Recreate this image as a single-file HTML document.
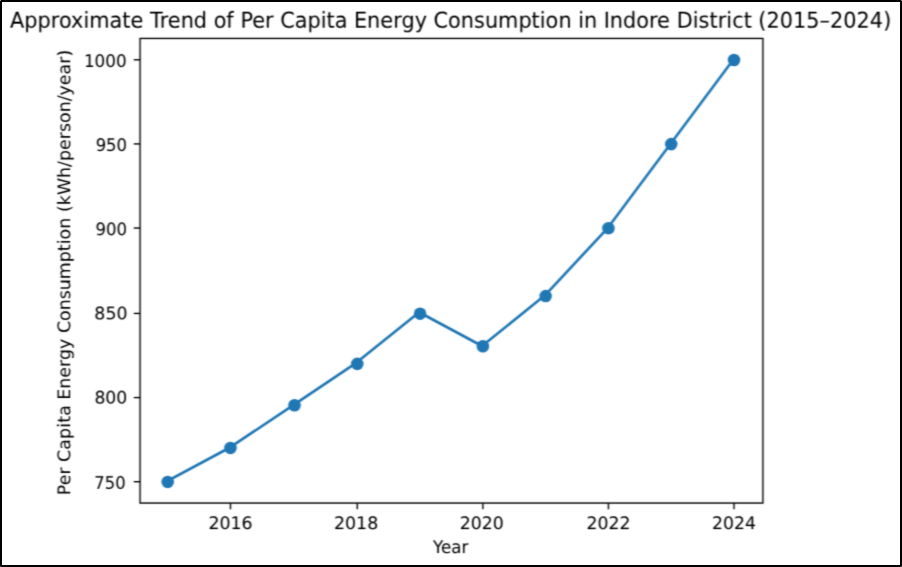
<!DOCTYPE html>
<html lang="en">
<head>
<meta charset="utf-8">
<title>Approximate Trend of Per Capita Energy Consumption in Indore District (2015–2024)</title>
<style>
html,body{margin:0;padding:0;background:#fff;}
body{width:902px;height:567px;overflow:hidden;}
svg{display:block;}
text{font-family:"DejaVu Sans","Liberation Sans",sans-serif;fill:#000000;text-rendering:geometricPrecision;white-space:pre;}
</style>
</head>
<body>
<svg width="902" height="567" viewBox="0 0 902 567">
<defs>
<filter id="fb" filterUnits="userSpaceOnUse" x="0" y="0" width="902" height="567" color-interpolation-filters="sRGB"><feConvolveMatrix order="5 5" divisor="1" targetX="2" targetY="2" edgeMode="none" preserveAlpha="false" kernelMatrix="0.00001 0.0002 0.0005 0.0002 0.00001 0.00194 0.02966 0.07363 0.02966 0.00194 0.01027 0.15706 0.38983 0.15706 0.01027 0.00194 0.02966 0.07363 0.02966 0.00194 0.00001 0.0002 0.0005 0.0002 0.00001"/></filter>
<filter id="ft2016" filterUnits="userSpaceOnUse" x="0" y="0" width="902" height="567" color-interpolation-filters="sRGB"><feConvolveMatrix order="5 5" divisor="1" targetX="2" targetY="2" edgeMode="none" preserveAlpha="false" kernelMatrix="0.00001 0.00008 0.0002 0.00008 0.00001 0.0012 0.01835 0.04554 0.01835 0.0012 0.00998 0.1526 0.37877 0.1526 0.00998 0.00296 0.04528 0.11238 0.04528 0.00296 0.00003 0.00048 0.00119 0.00048 0.00003"/></filter>
<filter id="ft2018" filterUnits="userSpaceOnUse" x="0" y="0" width="902" height="567" color-interpolation-filters="sRGB"><feConvolveMatrix order="5 5" divisor="1" targetX="2" targetY="2" edgeMode="none" preserveAlpha="false" kernelMatrix="0 0.00007 0.00018 0.00007 0 0.00113 0.01732 0.04299 0.01732 0.00113 0.00991 0.15156 0.37618 0.15156 0.00991 0.00309 0.04731 0.11742 0.04731 0.00309 0.00003 0.00053 0.00131 0.00053 0.00003"/></filter>
<filter id="ft2020" filterUnits="userSpaceOnUse" x="0" y="0" width="902" height="567" color-interpolation-filters="sRGB"><feConvolveMatrix order="5 5" divisor="1" targetX="2" targetY="2" edgeMode="none" preserveAlpha="false" kernelMatrix="0 0.00006 0.00015 0.00006 0 0.00104 0.01594 0.03957 0.01594 0.00104 0.0098 0.1499 0.37206 0.1499 0.0098 0.00329 0.05028 0.1248 0.05028 0.00329 0.00004 0.0006 0.00149 0.0006 0.00004"/></filter>
<filter id="ft2022" filterUnits="userSpaceOnUse" x="0" y="0" width="902" height="567" color-interpolation-filters="sRGB"><feConvolveMatrix order="5 5" divisor="1" targetX="2" targetY="2" edgeMode="none" preserveAlpha="false" kernelMatrix="0 0.00005 0.00012 0.00005 0 0.00092 0.01411 0.03503 0.01411 0.00092 0.00962 0.14716 0.36526 0.14716 0.00962 0.00358 0.05474 0.13586 0.05474 0.00358 0.00005 0.00073 0.0018 0.00073 0.00005"/></filter>
<filter id="ft2024" filterUnits="userSpaceOnUse" x="0" y="0" width="902" height="567" color-interpolation-filters="sRGB"><feConvolveMatrix order="5 5" divisor="1" targetX="2" targetY="2" edgeMode="none" preserveAlpha="false" kernelMatrix="0 0.00007 0.00018 0.00007 0 0.00116 0.01771 0.04396 0.01771 0.00116 0.00994 0.15197 0.3772 0.15197 0.00994 0.00304 0.04652 0.11547 0.04652 0.00304 0.00003 0.00051 0.00126 0.00051 0.00003"/></filter>
<filter id="ft750" filterUnits="userSpaceOnUse" x="0" y="0" width="902" height="567" color-interpolation-filters="sRGB"><feConvolveMatrix order="5 5" divisor="1" targetX="2" targetY="2" edgeMode="none" preserveAlpha="false" kernelMatrix="0.00004 0.00056 0.0014 0.00056 0.00004 0.00319 0.04876 0.12103 0.04876 0.00319 0.00986 0.15077 0.37421 0.15077 0.00986 0.00109 0.01663 0.04128 0.01663 0.00109 0 0.00007 0.00016 0.00007 0"/></filter>
<filter id="ft800" filterUnits="userSpaceOnUse" x="0" y="0" width="902" height="567" color-interpolation-filters="sRGB"><feConvolveMatrix order="5 5" divisor="1" targetX="2" targetY="2" edgeMode="none" preserveAlpha="false" kernelMatrix="0.00021 0.0032 0.00794 0.0032 0.00021 0.00649 0.09931 0.24648 0.09931 0.00649 0.00719 0.10993 0.27286 0.10993 0.00719 0.00028 0.00434 0.01078 0.00434 0.00028 0 0.00001 0.00002 0.00001 0"/></filter>
<filter id="ft850" filterUnits="userSpaceOnUse" x="0" y="0" width="902" height="567" color-interpolation-filters="sRGB"><feConvolveMatrix order="5 5" divisor="1" targetX="2" targetY="2" edgeMode="none" preserveAlpha="false" kernelMatrix="0 0.00001 0.00004 0.00001 0 0.00048 0.00727 0.01804 0.00727 0.00048 0.00835 0.12768 0.31692 0.12768 0.00835 0.00523 0.08003 0.19864 0.08003 0.00523 0.00012 0.00179 0.00444 0.00179 0.00012"/></filter>
<filter id="ft900" filterUnits="userSpaceOnUse" x="0" y="0" width="902" height="567" color-interpolation-filters="sRGB"><feConvolveMatrix order="5 5" divisor="1" targetX="2" targetY="2" edgeMode="none" preserveAlpha="false" kernelMatrix="0 0.00004 0.00009 0.00004 0 0.00079 0.01203 0.02985 0.01203 0.00079 0.00936 0.14308 0.35513 0.14308 0.00936 0.00397 0.06072 0.15072 0.06072 0.00397 0.00006 0.00092 0.00228 0.00092 0.00006"/></filter>
<filter id="ft950" filterUnits="userSpaceOnUse" x="0" y="0" width="902" height="567" color-interpolation-filters="sRGB"><feConvolveMatrix order="5 5" divisor="1" targetX="2" targetY="2" edgeMode="none" preserveAlpha="false" kernelMatrix="0.00001 0.00018 0.00044 0.00018 0.00001 0.00184 0.02807 0.06966 0.02807 0.00184 0.01027 0.15699 0.38966 0.15699 0.01027 0.00205 0.03133 0.07776 0.03133 0.00205 0.00001 0.00022 0.00055 0.00022 0.00001"/></filter>
<filter id="ft1000" filterUnits="userSpaceOnUse" x="0" y="0" width="902" height="567" color-interpolation-filters="sRGB"><feConvolveMatrix order="5 5" divisor="1" targetX="2" targetY="2" edgeMode="none" preserveAlpha="false" kernelMatrix="0.00001 0.00019 0.00048 0.00019 0.00001 0.00191 0.02914 0.07232 0.02914 0.00191 0.01027 0.15705 0.38981 0.15705 0.01027 0.00197 0.0302 0.07496 0.0302 0.00197 0.00001 0.00021 0.00051 0.00021 0.00001"/></filter>
<filter id="f_xlabel" filterUnits="userSpaceOnUse" x="0" y="0" width="902" height="567" color-interpolation-filters="sRGB"><feConvolveMatrix order="5 5" divisor="1" targetX="2" targetY="2" edgeMode="none" preserveAlpha="false" kernelMatrix="0.00001 0.00012 0.0003 0.00012 0.00001 0.0015 0.0229 0.05683 0.0229 0.0015 0.01018 0.15568 0.38641 0.15568 0.01018 0.00247 0.03776 0.09373 0.03776 0.00247 0.00002 0.00033 0.00081 0.00033 0.00002"/></filter>
<filter id="f_ylabel" filterUnits="userSpaceOnUse" x="0" y="0" width="902" height="567" color-interpolation-filters="sRGB"><feConvolveMatrix order="5 5" divisor="1" targetX="2" targetY="2" edgeMode="none" preserveAlpha="false" kernelMatrix="0.00001 0.00014 0.00048 0.00027 0.00002 0.00098 0.02083 0.07154 0.03987 0.00361 0.00521 0.1103 0.37875 0.21112 0.0191 0.00098 0.02083 0.07154 0.03987 0.00361 0.00001 0.00014 0.00048 0.00027 0.00002"/></filter>
<filter id="f_title" filterUnits="userSpaceOnUse" x="0" y="0" width="902" height="567" color-interpolation-filters="sRGB"><feConvolveMatrix order="5 5" divisor="1" targetX="2" targetY="2" edgeMode="none" preserveAlpha="false" kernelMatrix="0.00009 0.00132 0.00328 0.00132 0.00009 0.00463 0.07083 0.17581 0.07083 0.00463 0.00885 0.13538 0.33602 0.13538 0.00885 0.0006 0.00923 0.02291 0.00923 0.0006 0 0.00002 0.00006 0.00002 0"/></filter>
</defs>
<rect x="0" y="0" width="902" height="567" fill="#ffffff"/>
<g id="axes" filter="url(#fb)">
<g id="series" stroke="#1f77b4" fill="#1f77b4">
<polyline fill="none" stroke-width="2.656" stroke-linejoin="round" stroke-linecap="square" points="167.5,480.98 230.41,447.22 293.33,405.03 356.24,362.84 419.15,312.21 482.06,345.96 544.97,295.33 607.89,227.83 670.8,143.44 733.71,59.06"/>
<circle cx="167.68" cy="481.9" r="6.265" stroke="none"/>
<circle cx="230.47" cy="448" r="6.265" stroke="none"/>
<circle cx="294.51" cy="405.3" r="6.265" stroke="none"/>
<circle cx="357.29" cy="363.87" r="6.265" stroke="none"/>
<circle cx="420.08" cy="313.64" r="6.265" stroke="none"/>
<circle cx="482.86" cy="346.29" r="6.265" stroke="none"/>
<circle cx="545.65" cy="296.06" r="6.265" stroke="none"/>
<circle cx="608.43" cy="228.25" r="6.265" stroke="none"/>
<circle cx="671.22" cy="144.12" r="6.265" stroke="none"/>
<circle cx="734" cy="59.99" r="6.265" stroke="none"/>
</g>
<g id="ticks" stroke="#000000" stroke-width="1.394" fill="none">
<line x1="230.47" y1="503.05" x2="230.47" y2="509.33"/>
<line x1="357.29" y1="503.05" x2="357.29" y2="509.33"/>
<line x1="482.86" y1="503.05" x2="482.86" y2="509.33"/>
<line x1="608.43" y1="503.05" x2="608.43" y2="509.33"/>
<line x1="734" y1="503.05" x2="734" y2="509.33"/>
<line x1="133.78" y1="481.7" x2="140.06" y2="481.7"/>
<line x1="133.78" y1="397.57" x2="140.06" y2="397.57"/>
<line x1="133.78" y1="313.44" x2="140.06" y2="313.44"/>
<line x1="133.78" y1="228.05" x2="140.06" y2="228.05"/>
<line x1="133.78" y1="143.92" x2="140.06" y2="143.92"/>
<line x1="133.78" y1="59.79" x2="140.06" y2="59.79"/>
</g>
<rect id="frame" x="140.06" y="38.44" width="622.83" height="464.61" fill="none" stroke="#000000" stroke-width="1.394"/>
</g>
<g id="t_2016" filter="url(#ft2016)"><text x="209" y="0" transform="translate(0 529) scale(0.9972 1)" font-size="17.44" stroke="#000000" stroke-width="0.03">2016</text></g>
<g id="t_2018" filter="url(#ft2018)"><text x="334.61" y="0" transform="translate(0 529) scale(0.998 1)" font-size="17.44" stroke="#000000" stroke-width="0.03">2018</text></g>
<g id="t_2020" filter="url(#ft2020)"><text x="463.58" y="0" transform="translate(0 529) scale(0.9915 1)" font-size="17.44" stroke="#000000" stroke-width="0.03">2020</text></g>
<g id="t_2022" filter="url(#ft2022)"><text x="591.89" y="0" transform="translate(0 529) scale(0.9908 1)" font-size="17.44" stroke="#000000" stroke-width="0.03">2022</text></g>
<g id="t_2024" filter="url(#ft2024)"><text x="720.71" y="0" transform="translate(0 529) scale(0.988 1)" font-size="17.44" stroke="#000000" stroke-width="0.03">2024</text></g>
<g id="t_750" filter="url(#ft750)"><text x="100.63" y="0" transform="translate(0 489) scale(0.9378 1)" font-size="17.44" stroke="#000000" stroke-width="0.03">750</text></g>
<g id="t_800" filter="url(#ft800)"><text x="95.5" y="0" transform="translate(0 404) scale(0.9884 1)" font-size="17.44" stroke="#000000" stroke-width="0.03">800</text></g>
<g id="t_850" filter="url(#ft850)"><text x="94.9" y="0" transform="translate(0 319) scale(0.9944 1)" font-size="17.44" stroke="#000000" stroke-width="0.03">850</text></g>
<g id="t_900" filter="url(#ft900)"><text x="100.77" y="0" transform="translate(0 235) scale(0.9476 1)" font-size="17.44" stroke="#000000" stroke-width="0.03">900</text></g>
<g id="t_950" filter="url(#ft950)"><text x="101.43" y="0" transform="translate(0 151) scale(0.9431 1)" font-size="17.44" stroke="#000000" stroke-width="0.03">950</text></g>
<g id="t_1000" filter="url(#ft1000)"><text x="87.33" y="0" transform="translate(0 67) scale(0.9614 1)" font-size="17.44" stroke="#000000" stroke-width="0.03">1000</text></g>
<g id="t_xlabel" filter="url(#f_xlabel)"><text x="452.85" y="0" transform="translate(0 553) scale(0.9564 1.01)" font-size="17.44" stroke="#000000" stroke-width="0.06">Year</text></g>
<g id="t_ylabel" filter="url(#f_ylabel)"><text transform="translate(70 0) rotate(-90) scale(0.9922 0.9979)" font-size="17.44" stroke="#000000" stroke-width="0.024"><tspan x="-499.19" y="0" letter-spacing="0.129">Per</tspan> <tspan x="-465.64" y="0" letter-spacing="0.184">Capita</tspan> <tspan x="-402.9" y="0" letter-spacing="0.095">Energy</tspan> <tspan x="-335.72" y="0" letter-spacing="0.066">Consumption</tspan> <tspan x="-213.7" y="0" letter-spacing="0.066">(kWh/person/year)</tspan></text></g>
<g id="t_title" filter="url(#f_title)"><text transform="translate(0 28) scale(0.9938 1.0502)" font-size="20.93" stroke="#000000" stroke-width="0.029"><tspan x="10.17" y="0" letter-spacing="0.04">Approximate</tspan> <tspan x="151.01" y="0" letter-spacing="0.021">Trend</tspan> <tspan x="214.98" y="0" letter-spacing="-0.008">of</tspan> <tspan x="241.91" y="0" letter-spacing="0.049">Per</tspan> <tspan x="282.05" y="0" letter-spacing="0.012">Capita</tspan> <tspan x="356.11" y="0" letter-spacing="0.065">Energy</tspan> <tspan x="436.2" y="0" letter-spacing="0.037">Consumption</tspan> <tspan x="581.93" y="0" letter-spacing="-0.083">in</tspan> <tspan x="607.42" y="0" letter-spacing="0.012">Indore</tspan> <tspan x="680.92" y="0" letter-spacing="0.065">District</tspan> <tspan x="762.96" y="0" letter-spacing="0.057">(2015–2024)</tspan></text></g>
<rect id="border" x="1" y="1" width="900" height="565" fill="none" stroke="#000000" stroke-width="2"/>
<rect x="0" y="0" width="1" height="1" fill="#9a9a9a"/>
<rect x="901" y="0" width="1" height="1" fill="#8c8c8c"/>
<rect x="0" y="566" width="1" height="1" fill="#4a4a4a"/>
<rect x="901" y="566" width="1" height="1" fill="#5a5a5a"/>
</svg>
</body>
</html>
